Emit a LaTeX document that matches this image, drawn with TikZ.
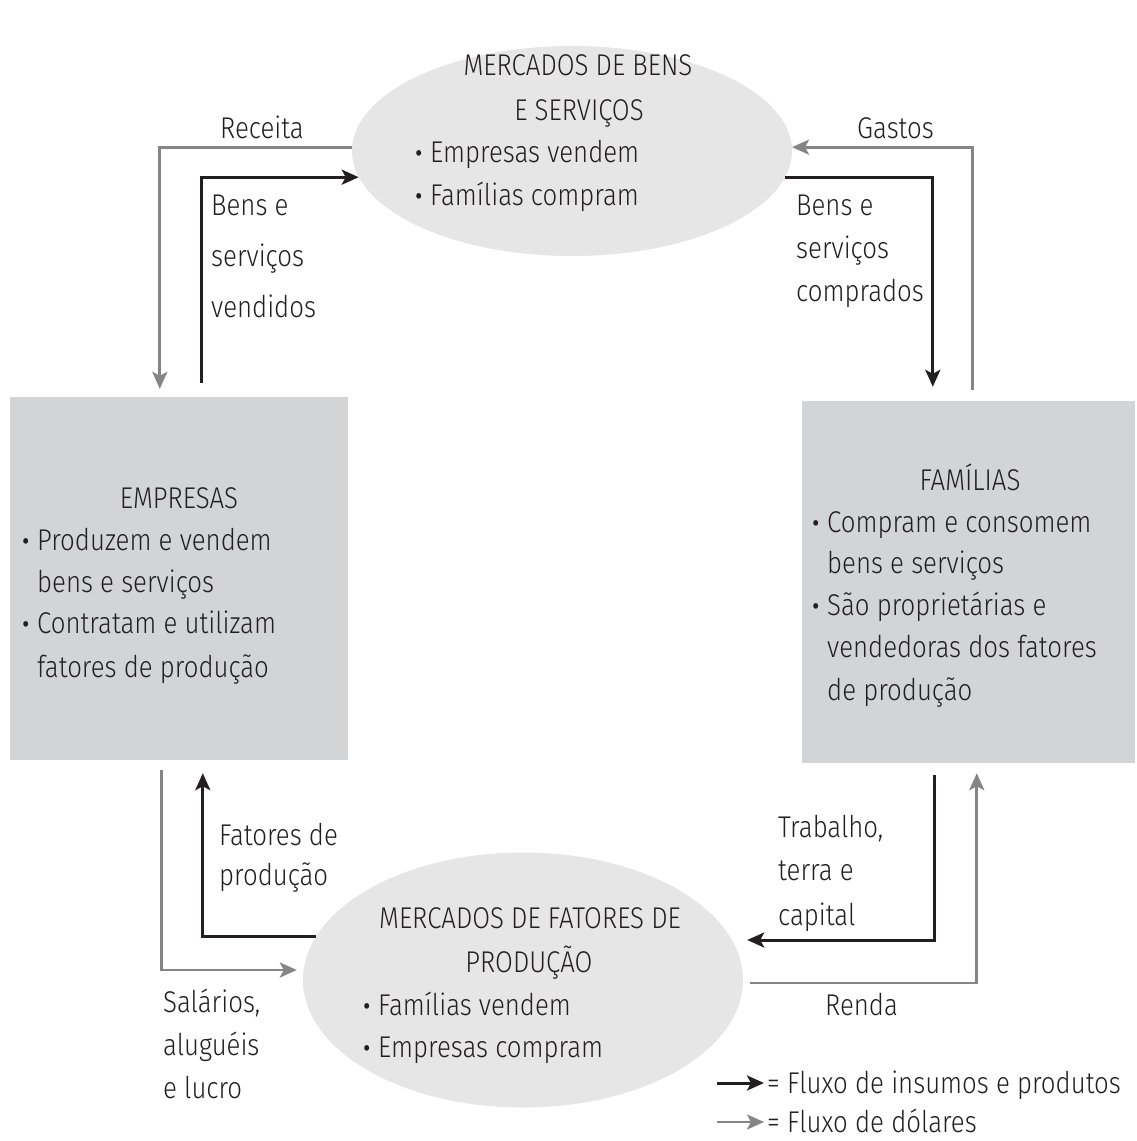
\documentclass[tikz,border=0pt]{standalone}
\usepackage{fontspec}
\setmainfont{Fira Sans Light}[FakeStretch=0.86]
\usetikzlibrary{shapes.geometric,arrows.meta}
\definecolor{txt}{HTML}{231F20}
\definecolor{boxgray}{HTML}{D3D4D6}
\definecolor{ellgray}{HTML}{E6E6E6}
\definecolor{arrgray}{HTML}{858585}
\newcommand\bigbul{\raisebox{-4.5pt}{\fontsize{38}{38}\selectfont •}}
\begin{document}
\begin{tikzpicture}[x=1pt,y=-1pt,
  every node/.style={font=\fontsize{30}{40}\selectfont, text=txt, inner sep=0pt},
  lab/.style={anchor=base west},
  ctr/.style={anchor=base},
  bul/.style={anchor=base east},
  blk/.style={draw=txt, line width=3pt, -{Stealth[length=17pt,width=15pt,inset=4pt]}},
  gry/.style={draw=arrgray, line width=2.8pt, -{Stealth[length=17pt,width=15pt,inset=4pt]}},
  ellnode/.style={ellipse, fill=ellgray, draw=none},
  boxnode/.style={rectangle, fill=boxgray, draw=none}]
\fill[white] (0,0) rectangle (1136,1141);
\useasboundingbox (0,0) rectangle (1136,1141);

% main shapes
\node[ellnode, minimum width=440pt, minimum height=210pt] (mtop) at (572,151) {};
\node[ellnode, minimum width=440pt, minimum height=255pt] (mbot) at (523,980) {};
\node[boxnode, minimum width=338pt, minimum height=363pt] (emp) at (179,578.5) {};
\node[boxnode, minimum width=333pt, minimum height=362pt] (fam) at (968.5,582) {};

% top ellipse text
\node[ctr] (t1) at (578,75) {MERCADOS DE BENS};
\node[ctr] (t2) at (579,120) {E SERVIÇOS};
\node[bul] (t3b) at (424,162) {\bigbul};
\node[lab] (t3) at (430,162) {Empresas vendem};
\node[bul] (t4b) at (424,205) {\bigbul};
\node[lab] (t4) at (430,205) {Famílias compram};

% bottom ellipse text
\node[ctr] (b1) at (530,928) {MERCADOS DE FATORES DE};
\node[ctr] (b2) at (529,972) {PRODUÇÃO};
\node[bul] (b3b) at (372,1015) {\bigbul};
\node[lab] (b3) at (378,1015) {Famílias vendem};
\node[bul] (b4b) at (372,1057) {\bigbul};
\node[lab] (b4) at (378,1057) {Empresas compram};

% empresas
\node[ctr] (e1) at (179,508) {EMPRESAS};
\node[bul] (e2b) at (31,550) {\bigbul};
\node[lab] (e2) at (37,550) {Produzem e vendem};
\node[lab] (e3) at (37,592) {bens e serviços};
\node[bul] (e4b) at (31,633) {\bigbul};
\node[lab] (e4) at (37,633) {Contratam e utilizam};
\node[lab] (e5) at (37,677) {fatores de produção};

% familias
\node[ctr] (f1) at (970,490) {FAMÍLIAS};
\node[bul] (f2b) at (821,532) {\bigbul};
\node[lab] (f2) at (827,532) {Compram e consomem};
\node[lab] (f3) at (827,573) {bens e serviços};
\node[bul] (f4b) at (821,615) {\bigbul};
\node[lab] (f4) at (827,615) {São proprietárias e};
\node[lab] (f5) at (827,657) {vendedoras dos fatores};
\node[lab] (f6) at (827,700) {de produção};

% connectors
\draw[gry] (mtop.179) -| ([xshift=150pt,yshift=8pt]emp.north west);
\draw[blk] ([xshift=192pt,yshift=14pt]emp.north west) |- (mtop.187);
\draw[gry] ([xshift=171pt,yshift=11pt]fam.north west) |- (mtop.1);
\draw[blk] (mtop.353) -| ([xshift=131pt,yshift=14pt]fam.north west);
\draw[blk] (mbot.168) -| ([xshift=193pt,yshift=-13pt]emp.south west);
\draw[gry] ([xshift=152pt,yshift=-10pt]emp.south west) |- ([xshift=-6pt,yshift=10pt]mbot.west);
\draw[blk] ([xshift=133pt,yshift=-12pt]fam.south west) |- ([xshift=4pt,yshift=40pt]mbot.east);
\draw[gry] ([xshift=7pt,yshift=-3pt]mbot.east) -| ([xshift=175pt,yshift=-10pt]fam.south west);

% connector labels
\node[lab] (lrec) at (220,138) {Receita};
\node[lab] (lbv1) at (211,215) {Bens e};
\node[lab] (lbv2) at (211,266) {serviços};
\node[lab] (lbv3) at (211,317) {vendidos};
\node[lab] (lgas) at (857,138) {Gastos};
\node[lab] (lbc1) at (796,215) {Bens e};
\node[lab] (lbc2) at (796,258) {serviços};
\node[lab] (lbc3) at (796,301) {comprados};
\node[lab] (lfp1) at (219,845) {Fatores de};
\node[lab] (lfp2) at (219,885) {produção};
\node[lab] (ltr1) at (778,837) {Trabalho,};
\node[lab] (ltr2) at (778,880) {terra e};
\node[lab] (ltr3) at (778,925) {capital};
\node[lab] (lsa1) at (163,1012) {Salários,};
\node[lab] (lsa2) at (163,1055) {aluguéis};
\node[lab] (lsa3) at (163,1098) {e lucro};
\node[lab] (lren) at (825,1015) {Renda};

% legend
\coordinate (lg1s) at (717,1083);
\coordinate (lg1e) at (764,1083);
\coordinate (lg2s) at (717,1122);
\coordinate (lg2e) at (764,1122);
\draw[blk] (lg1s) -- (lg1e);
\draw[gry] (lg2s) -- (lg2e);
\node[lab] (leg1) at (767,1093) {= Fluxo de insumos e produtos};
\node[lab] (leg2) at (767,1132) {= Fluxo de dólares};
\end{tikzpicture}
\end{document}
